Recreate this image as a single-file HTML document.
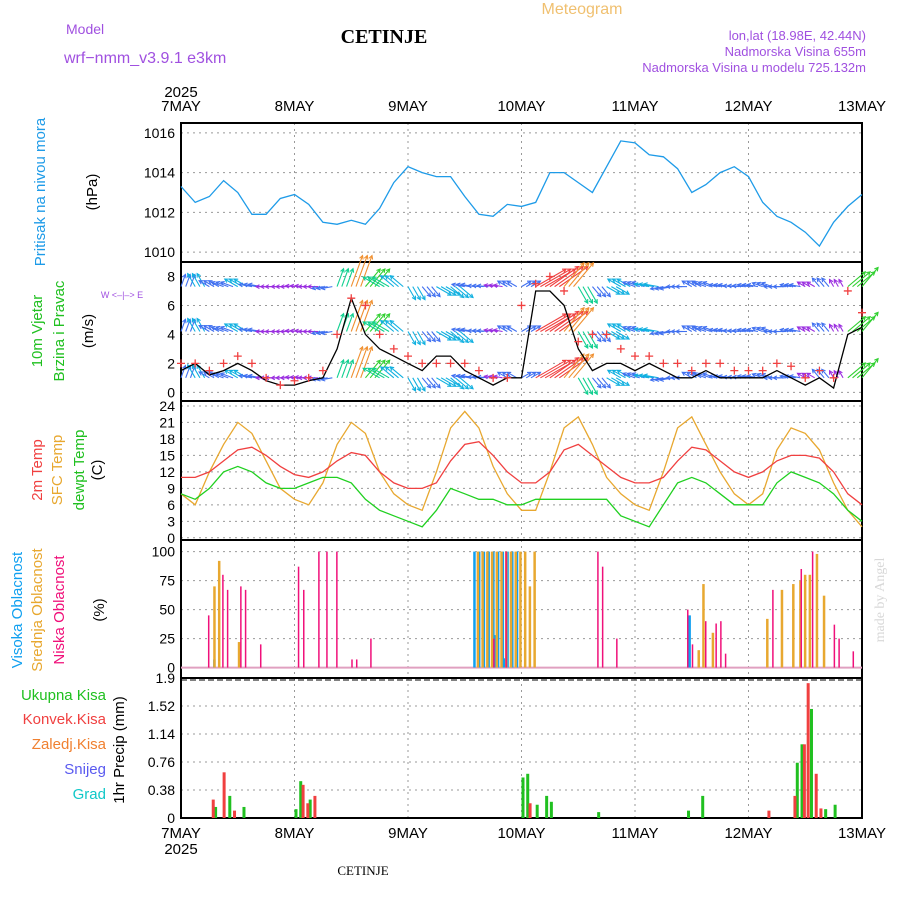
<!DOCTYPE html>
<html><head><meta charset="utf-8"><style>
body{margin:0;background:#fff}
svg{display:block;font-family:"Liberation Sans",sans-serif}
</style></head><body>
<svg id="c" width="900" height="900" viewBox="0 0 900 900">
<text x="582" y="14" fill="#f0c070" font-size="16" text-anchor="middle">Meteogram</text>
<text x="66" y="34" fill="#a050e0" font-size="14">Model</text>
<text x="64" y="63" fill="#a050e0" font-size="16">wrf−nmm_v3.9.1  e3km</text>
<text x="384" y="43" fill="#000" font-size="20" font-weight="bold" font-family="Liberation Serif,serif" text-anchor="middle">CETINJE</text>
<text x="866" y="40" fill="#a050e0" font-size="13" text-anchor="end">lon,lat (18.98E, 42.44N)</text>
<text x="866" y="56" fill="#a050e0" font-size="13" text-anchor="end">Nadmorska Visina 655m</text>
<text x="866" y="72" fill="#a050e0" font-size="13" text-anchor="end">Nadmorska Visina u modelu 725.132m</text>
<text x="363" y="875" fill="#000" font-size="13" font-family="Liberation Serif,serif" text-anchor="middle">CETINJE</text>
<text x="884" y="600" fill="#d8d8d8" font-size="14" font-family="Liberation Serif,serif" text-anchor="middle" transform="rotate(-90 884 600)">made by Angel</text>
<g id="g"></g>
</svg>
<script>
// ---- data ----
const days=["7MAY","8MAY","9MAY","10MAY","11MAY","12MAY","13MAY"];
const pressure=[1013.3,1012.5,1012.8,1013.6,1013.0,1011.9,1011.9,1012.7,1012.9,1012.4,1011.5,1011.4,1011.6,1011.4,1012.2,1013.5,1014.3,1014.0,1013.8,1013.8,1012.8,1011.9,1011.8,1012.4,1012.3,1012.5,1014.0,1014.0,1013.5,1013.0,1014.3,1015.6,1015.5,1014.9,1014.8,1014.2,1013.0,1013.4,1014.0,1014.3,1013.8,1012.5,1011.8,1011.5,1011.0,1010.3,1011.5,1012.3,1012.9];
const pressTicks=[1010,1012,1014,1016];
const windSpeed=[1.5,2,1.2,1.5,2,1.5,0.8,0.5,0.5,0.8,1,3,6.5,4,3,2.5,2,1.5,2.5,2.5,1.5,1,0.5,1,1,7,7,6,3,1.5,2,2,1.5,2,1.5,1,1,1.5,1,1,1,1,1.5,1,0.5,1,0.3,4,4.5];
const windGust=[2,2,1.5,2,2.5,2,1,0.5,0.8,1,1.5,4,6.5,6,4,3,2.5,2,2,2,2,1.5,1,1,6,7.5,8,7,3.5,4,4,3,2.5,2.5,2,2,1.5,2,2,1.5,1.5,1.5,2,1.8,1,1.5,1,7,5.5];
const windDir=[200,150,120,110,120,100,90,90,95,90,80,200,200,220,120,130,330,320,300,310,100,95,100,120,240,240,235,220,330,320,300,120,110,100,80,90,120,110,100,95,100,110,90,100,120,140,150,230,220];
const windTicks=[0,2,4,6,8];
const temp2m=[11,11,12,14,16,16.5,15,13,11.5,11,12,14,15.5,15,12,10,9,9,10,14,17,17.5,15,12,10,10,12,16,17,15,13,11,10,10,11,14,16.5,16,14,12,11,12,14,15,15,14.5,12,8,6];
const tempSfc=[8,6,12,17,21,19,14,9,7,6,10,17,21,19,12,8,6,5,12,20,23,20,13,8,5,5,12,20,22,17,11,8,6,5,12,20,22,17,12,8,6,8,16,20,19,16,10,5,2];
const tempDew=[8,7,9,12,13,12,10,9,9,10,11,11,10,7,5,4,3,2,5,9,8,7,7,6,6,7,7,7,7,7,7,4,3,2,6,10,11,10,8,6,6,6,10,12,11,10,8,5,3];
const tempTicks=[0,3,6,9,12,15,18,21,24];
const cloudHigh=[[7,7],[62,100],[63,100],[64,100],[65,100],[66,100],[67,100],[68,100],[69,100],[70,100],[71,100],[66.5,28],[68.5,8],[107.5,45]];
const cloudMid=[[6.6,70],[7.6,92],[11.8,22],[62.3,100],[63.3,100],[64.3,100],[65.3,100],[66.3,100],[67.3,100],[68.3,100],[69.3,100],[70.3,100],[71.3,100],[72.3,100],[73.3,70],[74.3,100],[109,15],[110,72],[112,30],[123.5,42],[126.6,67],[129,72],[130.5,75],[131.5,80],[132.5,80],[134,98],[135.5,62]];
const cloudLow=[[5.7,45],[8.7,80],[9.7,67],[12.5,70],[13.5,67],[16.7,20],[24.7,87],[25.8,67],[29,100],[30.7,100],[32.8,100],[36,7],[37,7],[40,25],[66,25],[68.6,100],[88,100],[89,87],[92,25],[107,50],[108,20],[110.8,40],[113,38],[114,40],[115,12],[125,67],[131,85],[133.4,100],[138,37],[139,25],[142,14]];
const cloudTicks=[0,25,50,75,100];
const precipTotal=[[7,0.15],[10,0.3],[13,0.15],[24,0.12],[25,0.5],[27,0.25],[72,0.55],[73,0.6],[75,0.18],[77,0.3],[78,0.22],[88,0.08],[107,0.1],[110,0.3],[130,0.75],[131,1.0],[133,1.48],[136,0.12],[138,0.18]];
const precipConv=[[6.5,0.25],[8.8,0.62],[11,0.1],[25.5,0.45],[26.5,0.2],[28,0.3],[73.5,0.2],[124,0.1],[129.5,0.3],[131.5,1.0],[132.3,1.83],[134,0.6],[135,0.13]];
const precipTicks=[0,0.38,0.76,1.14,1.52,1.9];
// ---- helpers ----
const NS="http://www.w3.org/2000/svg",G=document.getElementById('g');
const X0=181,X1=862;
function X(h){return X0+h*(X1-X0)/144;}
function mk(t,a,p){const e=document.createElementNS(NS,t);for(const k in a)e.setAttribute(k,a[k]);(p||G).appendChild(e);return e;}
const panels=[{t:123,b:262,min:1009.5,max:1016.5},{t:262,b:401,min:-0.6,max:9},{t:401,b:540,min:-0.4,max:24.9},{t:540,b:678,min:-9,max:110},{t:678,b:818,min:0,max:1.9}];
function Y(p,v){const P=panels[p];return P.b-(v-P.min)/(P.max-P.min)*(P.b-P.t);}
function axes(p,ticks,fmt,name){const P=panels[p];
 days.forEach((d,i)=>{if(i>0&&i<6){const l=mk('line',{x1:X(i*24),x2:X(i*24),y1:P.t,y2:P.b,stroke:'#999','stroke-dasharray':'2,4'});
 
 }});
 ticks.forEach(v=>{const y=Y(p,v);
 if(p!==4||v<1.9){const l=mk('line',{x1:X0,x2:X1,y1:y,y2:y,stroke:'#999','stroke-dasharray':'2,4'});
 
 }
 const t=mk('text',{x:X0-6,y:y+5,'text-anchor':'end','font-size':14,fill:'#000'});t.textContent=fmt(v);
 
 });
 const r=mk('rect',{x:X0,y:P.t,width:X1-X0,height:P.b-P.t,fill:'none',stroke:'#000','stroke-width':2});
 
 }
function line(p,arr,color,name){const pts=arr.map((v,i)=>X(i*3).toFixed(1)+','+Y(p,v).toFixed(1)).join(' ');
 const e=mk('polyline',{points:pts,fill:'none',stroke:color,'stroke-width':1.3});
 
 }
function vlabel(x,y,txt,color,name,size){const t=mk('text',{x:x,y:y,fill:color,'font-size':size||15,'text-anchor':'middle',transform:`rotate(-90 ${x} ${y})`});t.textContent=txt;
 
 }
// ---- panels ----
axes(0,pressTicks,v=>v,'pressure');
axes(1,windTicks,v=>v,'wind');
axes(2,tempTicks,v=>v,'temp');
axes(3,cloudTicks,v=>v,'cloud');
axes(4,precipTicks,v=>v===0?'0':(v===1.9?'1.9':v.toFixed(2)),'precip');
{const l=mk('line',{x1:X0,x2:X1,y1:680,y2:680,stroke:'#000','stroke-dasharray':'6,3'});
 
 }
days.forEach((d,i)=>{[111,838].forEach((y,j)=>{const t=mk('text',{x:X(i*24),y:y,'text-anchor':'middle','font-size':15,fill:'#000'});t.textContent=d;
 
 });});
[[181,97],[181,854]].forEach((p,j)=>{const t=mk('text',{x:p[0],y:p[1],'text-anchor':'middle','font-size':15,fill:'#000'});t.textContent='2025';
 
 });
// pressure
line(0,pressure,'#1e9be8','pressure-line');
// wind arrows
const rowsY=[7.3,4.2,1.0];
function spdColor(s){if(s<1)return '#9a2ee0';if(s<1.6)return '#4070f0';if(s<2.6)return '#10b0e0';if(s<3.6)return '#10d090';if(s<4.6)return '#30d030';if(s<5.6)return '#e0c020';if(s<6.6)return '#f09030';return '#f04040';}
for(let i=0;i<windDir.length;i++){const s=windSpeed[i];const d=windDir[i]*Math.PI/180;
 for(let k=0;k<3;k++){if(i===windDir.length-1&&k>0)break;
 rowsY.forEach(r=>{const x=X(i*3+k),y=Y(1,r);const L=7+s*4;const dx=-Math.sin(d)*L,dy=Math.cos(d)*L;
 const g=mk('g',{stroke:spdColor(s),'stroke-width':1.1,fill:'none'});
 
 
 mk('line',{x1:x,y1:y,x2:x+dx,y2:y+dy},g);
 const a=Math.atan2(dy,dx);
 mk('polyline',{points:`${x+dx-4*Math.cos(a-0.5)},${y+dy-4*Math.sin(a-0.5)} ${x+dx},${y+dy} ${x+dx-4*Math.cos(a+0.5)},${y+dy-4*Math.sin(a+0.5)}`},g);});}}
line(1,windSpeed,'#000','wind-speed-line');
windGust.forEach((v,i)=>{const x=X(i*3),y=Y(1,v);const e=mk('path',{d:`M${x-4},${y}H${x+4}M${x},${y-4}V${y+4}`,stroke:'#f04040','stroke-width':1.3});
 
 });
// temps
line(2,tempSfc,'#e8a830','sfc-temp-line');
line(2,temp2m,'#f04040','2m-temp-line');
line(2,tempDew,'#20d020','dewpoint-line');
// clouds
{const b=mk('line',{x1:X0,x2:X1,y1:Y(3,0),y2:Y(3,0),stroke:'#e0a0c0','stroke-width':2});
 
 }
function bars(p,arr,color,w,off,name){arr.forEach(([h,v])=>{const x=X(h)+off,y=Y(p,v),y0=Y(p,0);
 const r=mk('rect',{x:x,y:y,width:w,height:y0-y,fill:color});
 
 });}
bars(3,cloudHigh,'#10a0f0',2.5,-1,'high-cloud-bar');
bars(3,cloudMid,'#e8a830',2.5,1,'mid-cloud-bar');
bars(3,cloudLow,'#f0107a',1.5,0,'low-cloud-bar');
// precip
bars(4,precipTotal,'#20c020',3,0,'total-precip-bar');
bars(4,precipConv,'#f04040',3,0,'convective-precip-bar');
// left labels
vlabel(45,192,'Pritisak na nivou mora','#1e9be8','pressure-title',15);
vlabel(97,192,'(hPa)','#000','pressure-unit',15);
vlabel(42,331,'10m Vjetar','#20c020','wind-title-1',15);
vlabel(64,331,'Brzina i Pravac','#20c020','wind-title-2',15);
vlabel(93,331,'(m/s)','#000','wind-unit',15);
{const t=mk('text',{x:122,y:298,fill:'#a050e0','font-size':9,'text-anchor':'middle'});t.textContent='W <–|–> E';
 
 }
vlabel(42,470,'2m Temp','#f04040','2m-temp-title',15);
vlabel(62,470,'SFC Temp','#e8a830','sfc-temp-title',15);
vlabel(84,470,'dewpt Temp','#20c020','dewpt-title',15);
vlabel(102,470,'(C)','#000','temp-unit',15);
vlabel(22,610,'Visoka Oblacnost','#10a0f0','high-cloud-title',15);
vlabel(42,610,'Srednja Oblacnost','#e8a830','mid-cloud-title',15);
vlabel(64,610,'Niska Oblacnost','#f0107a','low-cloud-title',15);
vlabel(104,610,'(%)','#000','cloud-unit',15);
vlabel(124,750,'1hr Precip (mm)','#000','precip-unit',15);
[['Ukupna Kisa','#20c020',700],['Konvek.Kisa','#f04040',724],['Zaledj.Kisa','#f08030',749],['Snijeg','#5a5af0',774],['Grad','#10c8c8',799]].forEach(([s,c,y])=>{
 const t=mk('text',{x:106,y:y,fill:c,'font-size':15,'text-anchor':'end'});t.textContent=s;
 
 });
</script>
</body></html>
